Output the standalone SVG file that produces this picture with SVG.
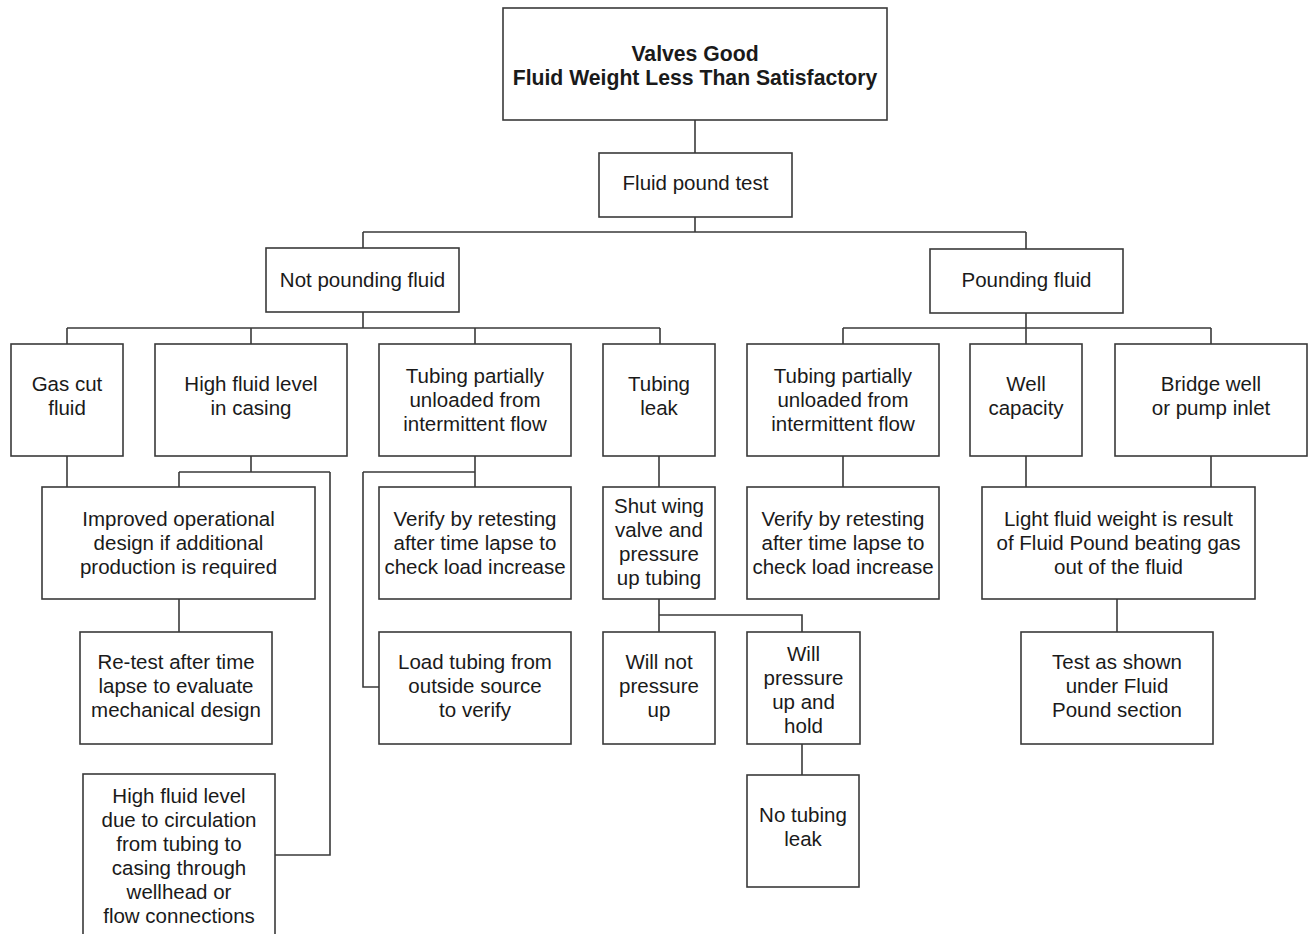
<svg xmlns="http://www.w3.org/2000/svg" width="1309" height="934" viewBox="0 0 1309 934">
<style>
rect.n{fill:#fff;stroke:#3a3a3a;stroke-width:1.6}
text{font-family:"Liberation Sans",Arial,sans-serif;font-size:20.5px;fill:#1a1a1a;text-anchor:middle}
text.b{font-weight:bold;font-size:21.2px}
#connectors path{fill:none;stroke:#3a3a3a;stroke-width:1.6}
</style>
<rect width="1309" height="934" fill="#fff"/>
<g id="connectors">
<path d="M695,120V153"/>
<path d="M695,217V232M363,232H1026M363,232V248M1026,232V249"/>
<path d="M363,312V328M67,328H660M67,328V344M251,328V344M475,328V344M660,328V344"/>
<path d="M1026,313V328M843,328H1211M843,328V344M1026,328V344M1211,328V344"/>
<path d="M67,456V487"/>
<path d="M251,456V472M179,472H330M179,472V487M330,472V855H275"/>
<path d="M475,456V487M363,472H475M363,472V687H379"/>
<path d="M659,456V487"/>
<path d="M843,456V487M1026,456V487M1211,456V487"/>
<path d="M179,599V632"/>
<path d="M659,599V632M659,615H802V632"/>
<path d="M1117,599V632"/>
<path d="M802,744V775"/>
</g>
<g id="root"><rect class="n" x="503" y="8" width="384" height="112"/><text class="b" x="695" y="61">Valves Good</text><text class="b" x="695" y="85">Fluid Weight Less Than Satisfactory</text></g>
<g id="fluid-pound-test"><rect class="n" x="599" y="153" width="193" height="64"/><text x="695.5" y="190">Fluid pound test</text></g>
<g id="not-pounding"><rect class="n" x="266" y="248" width="193" height="64"/><text x="362.5" y="287">Not pounding fluid</text></g>
<g id="pounding"><rect class="n" x="930" y="249" width="193" height="64"/><text x="1026.5" y="287">Pounding fluid</text></g>
<g id="gas-cut"><rect class="n" x="11" y="344" width="112" height="112"/><text x="67" y="391">Gas cut</text><text x="67" y="415">fluid</text></g>
<g id="high-fluid"><rect class="n" x="155" y="344" width="192" height="112"/><text x="251" y="391">High fluid level</text><text x="251" y="415">in casing</text></g>
<g id="tubing-partial-l"><rect class="n" x="379" y="344" width="192" height="112"/><text x="475" y="383">Tubing partially</text><text x="475" y="407">unloaded from</text><text x="475" y="431">intermittent flow</text></g>
<g id="tubing-leak"><rect class="n" x="603" y="344" width="112" height="112"/><text x="659" y="391">Tubing</text><text x="659" y="415">leak</text></g>
<g id="tubing-partial-r"><rect class="n" x="747" y="344" width="192" height="112"/><text x="843" y="383">Tubing partially</text><text x="843" y="407">unloaded from</text><text x="843" y="431">intermittent flow</text></g>
<g id="well-capacity"><rect class="n" x="970" y="344" width="112" height="112"/><text x="1026" y="391">Well</text><text x="1026" y="415">capacity</text></g>
<g id="bridge-well"><rect class="n" x="1115" y="344" width="192" height="112"/><text x="1211" y="391">Bridge well</text><text x="1211" y="415">or pump inlet</text></g>
<g id="improved"><rect class="n" x="42" y="487" width="273" height="112"/><text x="178.5" y="526">Improved operational</text><text x="178.5" y="550">design if additional</text><text x="178.5" y="574">production is required</text></g>
<g id="verify-l"><rect class="n" x="379" y="487" width="192" height="112"/><text x="475" y="526">Verify by retesting</text><text x="475" y="550">after time lapse to</text><text x="475" y="574">check load increase</text></g>
<g id="shut-wing"><rect class="n" x="603" y="487" width="112" height="112"/><text x="659" y="513">Shut wing</text><text x="659" y="537">valve and</text><text x="659" y="561">pressure</text><text x="659" y="585">up tubing</text></g>
<g id="verify-r"><rect class="n" x="747" y="487" width="192" height="112"/><text x="843" y="526">Verify by retesting</text><text x="843" y="550">after time lapse to</text><text x="843" y="574">check load increase</text></g>
<g id="light-fluid"><rect class="n" x="982" y="487" width="273" height="112"/><text x="1118.5" y="526">Light fluid weight is result</text><text x="1118.5" y="550">of Fluid Pound beating gas</text><text x="1118.5" y="574">out of the fluid</text></g>
<g id="retest"><rect class="n" x="80" y="632" width="192" height="112"/><text x="176" y="669">Re-test after time</text><text x="176" y="693">lapse to evaluate</text><text x="176" y="717">mechanical design</text></g>
<g id="load-tubing"><rect class="n" x="379" y="632" width="192" height="112"/><text x="475" y="669">Load tubing from</text><text x="475" y="693">outside source</text><text x="475" y="717">to verify</text></g>
<g id="will-not"><rect class="n" x="603" y="632" width="112" height="112"/><text x="659" y="669">Will not</text><text x="659" y="693">pressure</text><text x="659" y="717">up</text></g>
<g id="will-hold"><rect class="n" x="747" y="632" width="113" height="112"/><text x="803.5" y="661">Will</text><text x="803.5" y="685">pressure</text><text x="803.5" y="709">up and</text><text x="803.5" y="733">hold</text></g>
<g id="test-shown"><rect class="n" x="1021" y="632" width="192" height="112"/><text x="1117" y="669">Test as shown</text><text x="1117" y="693">under Fluid</text><text x="1117" y="717">Pound section</text></g>
<g id="no-leak"><rect class="n" x="747" y="775" width="112" height="112"/><text x="803" y="822">No tubing</text><text x="803" y="846">leak</text></g>
<g id="circulation"><rect class="n" x="83" y="774" width="192" height="170"/><text x="179" y="803">High fluid level</text><text x="179" y="827">due to circulation</text><text x="179" y="851">from tubing to</text><text x="179" y="875">casing through</text><text x="179" y="899">wellhead or</text><text x="179" y="923">flow connections</text></g>
</svg>
